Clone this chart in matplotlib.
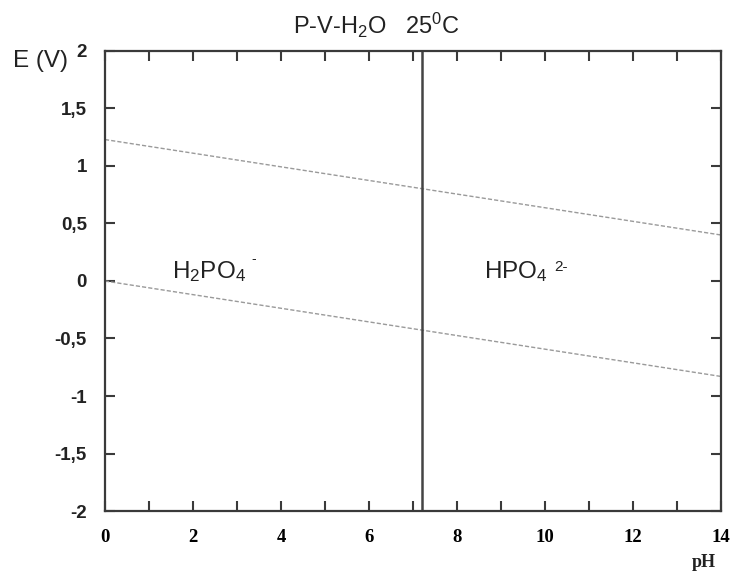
import matplotlib
matplotlib.use("Agg")
import matplotlib.pyplot as plt
from matplotlib.ticker import MultipleLocator, FixedLocator

# Water stability lines (O2/H2O and H2O/H2) and phosphate boundary
ph_ends = [0, 14]
e_oxygen = [1.23, 0.40]
e_hydrogen = [0.0, -0.83]
pka_boundary = 7.2

x_ticks = [0, 2, 4, 6, 8, 10, 12, 14]
y_ticks = [-2, -1.5, -1, -0.5, 0, 0.5, 1, 1.5, 2]
y_tick_labels = ["-2", "-1,5", "-1", "-0,5", "0", "0,5", "1", "1,5", "2"]

plt.rcParams["font.family"] = ["Liberation Sans", "DejaVu Sans"]
plt.rcParams["mathtext.default"] = "regular"

fig = plt.figure(figsize=(7.32, 5.73), dpi=100)
ax = fig.add_axes([0.1434, 0.1082, 0.8416, 0.8028])

spine_col = "#3a3a3a"
ax.plot(ph_ends, e_oxygen, linestyle=(0, (3, 1.5)), color="#9a9a9a", lw=1.0)
ax.plot(ph_ends, e_hydrogen, linestyle=(0, (3, 1.5)), color="#9a9a9a", lw=1.0)
ax.axvline(pka_boundary, color="#444444", lw=1.8)

ax.set_xlim(0, 14)
ax.set_ylim(-2, 2)

ax.xaxis.set_major_locator(FixedLocator(x_ticks))
ax.xaxis.set_minor_locator(MultipleLocator(1))
ax.yaxis.set_major_locator(FixedLocator(y_ticks))
ax.set_yticklabels(y_tick_labels)

for s in ax.spines.values():
    s.set_color(spine_col)
    s.set_linewidth(1.6)

ax.tick_params(axis="x", which="both", direction="in", top=True, bottom=True,
               length=7, width=1.5, color=spine_col, pad=13)
ax.tick_params(axis="y", which="major", direction="in", left=True, right=True,
               length=7, width=1.5, color=spine_col, pad=13)

for lab in ax.get_xticklabels():
    lab.set_family(["Liberation Serif", "DejaVu Serif"])
    lab.set_fontweight("bold")
    lab.set_fontsize(13.5)
for lab in ax.get_yticklabels():
    lab.set_fontweight("bold")
    lab.set_fontsize(13.5)
    lab.set_color("#222222")

fig.text(0.515, 0.955, r"P-V-H$_2$O   25$^0$C", ha="center", va="center",
         fontsize=17, color="#222222")
fig.text(0.018, 0.893, "E (V)", ha="left", va="center", fontsize=17.5, color="#222222")
fig.text(0.962, 0.018, "pH", ha="center", va="center", fontsize=13,
         fontweight="bold", family=["Liberation Serif", "DejaVu Serif"], color="#222222")

ax.text(1.52, 0.08, r"H$_2$PO$_4$", ha="left", va="center", fontsize=17.5, color="#222222")
ax.text(3.33, 0.19, "-", ha="left", va="center", fontsize=10, color="#222222")
ax.text(8.62, 0.08, r"HPO$_4$", ha="left", va="center", fontsize=17.5, color="#222222")
ax.text(10.22, 0.12, "2-", ha="left", va="center", fontsize=11, color="#222222")

fig.savefig("out.png", dpi=100, facecolor="white")
